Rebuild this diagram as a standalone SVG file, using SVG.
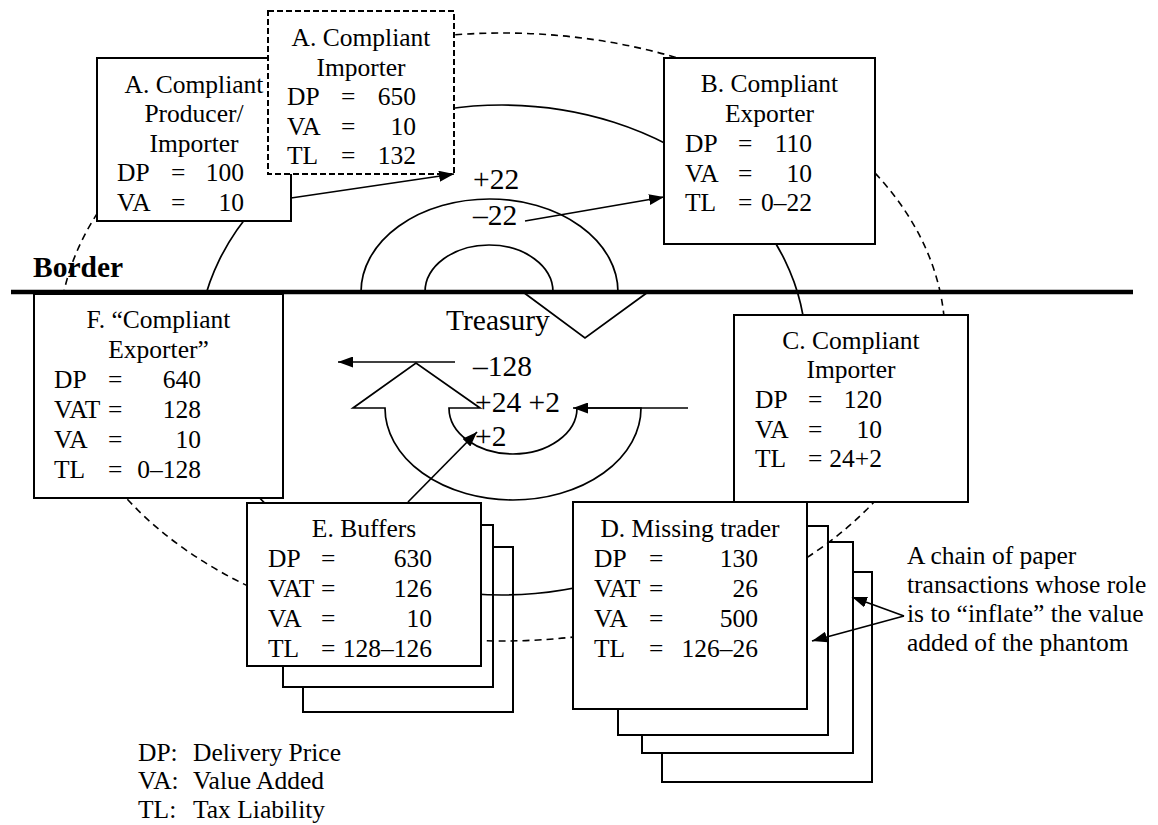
<svg xmlns="http://www.w3.org/2000/svg" width="1158" height="825" viewBox="0 0 1158 825">
<defs>
<marker id="ah" markerUnits="userSpaceOnUse" markerWidth="15" markerHeight="11" refX="15" refY="5.5" orient="auto">
<path d="M0,0 L15,5.5 L0,11 Z" fill="#000"/>
</marker>
</defs>
<rect width="1158" height="825" fill="#fff"/>

<g id="stacks" fill="#fff" stroke="#000" stroke-width="2">
<rect x="303" y="547" width="210" height="165"/>
<rect x="283" y="525" width="210" height="162"/>
<rect x="662" y="572" width="210" height="210"/>
<rect x="642" y="542" width="211" height="211"/>
<rect x="618" y="526" width="210" height="209"/>
</g>

<g id="connectors" fill="none" stroke="#000">
<ellipse cx="502" cy="350" rx="304" ry="245" stroke-width="1.7"/>
<ellipse cx="502" cy="337" rx="443" ry="304" stroke-width="1.6" stroke-dasharray="7 5"/>
</g>

<g id="border">
<line x1="11" y1="292" x2="1133" y2="292" stroke="#000" stroke-width="4.5"/>
<text font-family="Liberation Serif" x="33" y="277" font-size="29.5" font-weight="bold">Border</text>
</g>

<g id="nodeA1" font-size="25.5">
<rect x="97" y="58" width="194" height="163" fill="#fff" stroke="#000" stroke-width="2"/>
<text font-family="Liberation Serif" font-size="25.5" text-anchor="middle" x="194" y="93">A. Compliant</text>
<text font-family="Liberation Serif" font-size="25.5" text-anchor="middle" x="194" y="122">Producer/</text>
<text font-family="Liberation Serif" font-size="25.5" text-anchor="middle" x="194" y="152">Importer</text>
<text font-family="Liberation Serif" font-size="25.5" x="117" y="181">DP</text><text font-family="Liberation Serif" font-size="25.5" x="171" y="181">=</text><text font-family="Liberation Serif" font-size="25.5" text-anchor="end" x="244" y="181">100</text>
<text font-family="Liberation Serif" font-size="25.5" x="117" y="211">VA</text><text font-family="Liberation Serif" font-size="25.5" x="171" y="211">=</text><text font-family="Liberation Serif" font-size="25.5" text-anchor="end" x="244" y="211">10</text>
</g>

<g id="nodeA2">
<rect x="268" y="11" width="186" height="163" fill="#fff" stroke="#000" stroke-width="2" stroke-dasharray="6 3"/>
<text font-family="Liberation Serif" font-size="25.5" text-anchor="middle" x="361" y="46">A. Compliant</text>
<text font-family="Liberation Serif" font-size="25.5" text-anchor="middle" x="361" y="76">Importer</text>
<text font-family="Liberation Serif" font-size="25.5" x="287" y="105">DP</text><text font-family="Liberation Serif" font-size="25.5" x="341" y="105">=</text><text font-family="Liberation Serif" font-size="25.5" text-anchor="end" x="416" y="105">650</text>
<text font-family="Liberation Serif" font-size="25.5" x="287" y="135">VA</text><text font-family="Liberation Serif" font-size="25.5" x="341" y="135">=</text><text font-family="Liberation Serif" font-size="25.5" text-anchor="end" x="416" y="135">10</text>
<text font-family="Liberation Serif" font-size="25.5" x="287" y="164">TL</text><text font-family="Liberation Serif" font-size="25.5" x="341" y="164">=</text><text font-family="Liberation Serif" font-size="25.5" text-anchor="end" x="416" y="164">132</text>
</g>

<g id="nodeB">
<rect x="664" y="58" width="211" height="186" fill="#fff" stroke="#000" stroke-width="2"/>
<text font-family="Liberation Serif" font-size="25.5" text-anchor="middle" x="769.5" y="92">B. Compliant</text>
<text font-family="Liberation Serif" font-size="25.5" text-anchor="middle" x="769.5" y="122">Exporter</text>
<text font-family="Liberation Serif" font-size="25.5" x="685" y="152">DP</text><text font-family="Liberation Serif" font-size="25.5" x="738" y="152">=</text><text font-family="Liberation Serif" font-size="25.5" text-anchor="end" x="812" y="152">110</text>
<text font-family="Liberation Serif" font-size="25.5" x="685" y="182">VA</text><text font-family="Liberation Serif" font-size="25.5" x="738" y="182">=</text><text font-family="Liberation Serif" font-size="25.5" text-anchor="end" x="812" y="182">10</text>
<text font-family="Liberation Serif" font-size="25.5" x="685" y="211">TL</text><text font-family="Liberation Serif" font-size="25.5" x="738" y="211">=</text><text font-family="Liberation Serif" font-size="25.5" text-anchor="end" x="812" y="211">0–22</text>
</g>

<g id="nodeC">
<rect x="734" y="315" width="234" height="187" fill="#fff" stroke="#000" stroke-width="2"/>
<text font-family="Liberation Serif" font-size="25.5" text-anchor="middle" x="851" y="349">C. Compliant</text>
<text font-family="Liberation Serif" font-size="25.5" text-anchor="middle" x="851" y="378">Importer</text>
<text font-family="Liberation Serif" font-size="25.5" x="755" y="408">DP</text><text font-family="Liberation Serif" font-size="25.5" x="808" y="408">=</text><text font-family="Liberation Serif" font-size="25.5" text-anchor="end" x="882" y="408">120</text>
<text font-family="Liberation Serif" font-size="25.5" x="755" y="438">VA</text><text font-family="Liberation Serif" font-size="25.5" x="808" y="438">=</text><text font-family="Liberation Serif" font-size="25.5" text-anchor="end" x="882" y="438">10</text>
<text font-family="Liberation Serif" font-size="25.5" x="755" y="467">TL</text><text font-family="Liberation Serif" font-size="25.5" x="808" y="467">=</text><text font-family="Liberation Serif" font-size="25.5" text-anchor="end" x="882" y="467">24+2</text>
</g>

<g id="nodeF">
<rect x="34" y="294" width="249" height="204" fill="#fff" stroke="#000" stroke-width="2"/>
<text font-family="Liberation Serif" font-size="25.5" text-anchor="middle" x="158.5" y="328">F. “Compliant</text>
<text font-family="Liberation Serif" font-size="25.5" text-anchor="middle" x="158.5" y="358">Exporter”</text>
<text font-family="Liberation Serif" font-size="25.5" x="54" y="388">DP</text><text font-family="Liberation Serif" font-size="25.5" x="108" y="388">=</text><text font-family="Liberation Serif" font-size="25.5" text-anchor="end" x="201" y="388">640</text>
<text font-family="Liberation Serif" font-size="25.5" x="54" y="418">VAT</text><text font-family="Liberation Serif" font-size="25.5" x="108" y="418">=</text><text font-family="Liberation Serif" font-size="25.5" text-anchor="end" x="201" y="418">128</text>
<text font-family="Liberation Serif" font-size="25.5" x="54" y="448">VA</text><text font-family="Liberation Serif" font-size="25.5" x="108" y="448">=</text><text font-family="Liberation Serif" font-size="25.5" text-anchor="end" x="201" y="448">10</text>
<text font-family="Liberation Serif" font-size="25.5" x="54" y="478">TL</text><text font-family="Liberation Serif" font-size="25.5" x="108" y="478">=</text><text font-family="Liberation Serif" font-size="25.5" text-anchor="end" x="201" y="478">0–128</text>
</g>

<g id="nodeE">
<rect x="247" y="503" width="234" height="163" fill="#fff" stroke="#000" stroke-width="2"/>
<text font-family="Liberation Serif" font-size="25.5" text-anchor="middle" x="364" y="537">E. Buffers</text>
<text font-family="Liberation Serif" font-size="25.5" x="268" y="567">DP</text><text font-family="Liberation Serif" font-size="25.5" x="321" y="567">=</text><text font-family="Liberation Serif" font-size="25.5" text-anchor="end" x="432" y="567">630</text>
<text font-family="Liberation Serif" font-size="25.5" x="268" y="597">VAT</text><text font-family="Liberation Serif" font-size="25.5" x="321" y="597">=</text><text font-family="Liberation Serif" font-size="25.5" text-anchor="end" x="432" y="597">126</text>
<text font-family="Liberation Serif" font-size="25.5" x="268" y="627">VA</text><text font-family="Liberation Serif" font-size="25.5" x="321" y="627">=</text><text font-family="Liberation Serif" font-size="25.5" text-anchor="end" x="432" y="627">10</text>
<text font-family="Liberation Serif" font-size="25.5" x="268" y="657">TL</text><text font-family="Liberation Serif" font-size="25.5" x="321" y="657">=</text><text font-family="Liberation Serif" font-size="25.5" text-anchor="end" x="432" y="657">128–126</text>
</g>

<g id="nodeD">
<rect x="573" y="502" width="234" height="207" fill="#fff" stroke="#000" stroke-width="2"/>
<text font-family="Liberation Serif" font-size="25.5" text-anchor="middle" x="690" y="537">D. Missing trader</text>
<text font-family="Liberation Serif" font-size="25.5" x="594" y="567">DP</text><text font-family="Liberation Serif" font-size="25.5" x="649" y="567">=</text><text font-family="Liberation Serif" font-size="25.5" text-anchor="end" x="758" y="567">130</text>
<text font-family="Liberation Serif" font-size="25.5" x="594" y="597">VAT</text><text font-family="Liberation Serif" font-size="25.5" x="649" y="597">=</text><text font-family="Liberation Serif" font-size="25.5" text-anchor="end" x="758" y="597">26</text>
<text font-family="Liberation Serif" font-size="25.5" x="594" y="627">VA</text><text font-family="Liberation Serif" font-size="25.5" x="649" y="627">=</text><text font-family="Liberation Serif" font-size="25.5" text-anchor="end" x="758" y="627">500</text>
<text font-family="Liberation Serif" font-size="25.5" x="594" y="657">TL</text><text font-family="Liberation Serif" font-size="25.5" x="649" y="657">=</text><text font-family="Liberation Serif" font-size="25.5" text-anchor="end" x="758" y="657">126–26</text>
</g>

<g id="treasury">
<g fill="none" stroke="#000" stroke-width="1.7">
<path d="M361,292 A128.5,93 0 0 1 618,292 L648,292 L585,338 L523,292 L553,292 A64,47 0 0 0 425,292 Z"/>
<path d="M385,408 A128,92 0 0 0 641,408 L577,408 A64,46 0 0 1 449,408 L480,408 L416,363 L353,408 Z"/>
</g>
<text font-family="Liberation Serif" font-size="29.5" x="446" y="330">Treasury</text>
<text font-family="Liberation Serif" font-size="29.5" x="473" y="189">+22</text>
<text font-family="Liberation Serif" font-size="29.5" x="473" y="225">–22</text>
<text font-family="Liberation Serif" font-size="29.5" x="473" y="376">–128</text>
<text font-family="Liberation Serif" font-size="29.5" x="475" y="412">+24 +2</text>
<text font-family="Liberation Serif" font-size="29.5" x="475" y="446">+2</text>
</g>

<g id="arrows" fill="none" stroke="#000" stroke-width="1.7" marker-end="url(#ah)">
<line x1="291" y1="198" x2="454" y2="174"/>
<line x1="525" y1="221" x2="664" y2="197"/>
<line x1="455" y1="362" x2="338" y2="362"/>
<line x1="688" y1="408" x2="573" y2="408"/>
<line x1="408" y1="502" x2="477" y2="432"/>
<line x1="904" y1="616" x2="852" y2="597"/>
<line x1="904" y1="616" x2="812" y2="641"/>
</g>

<g id="note">
<text font-family="Liberation Serif" font-size="25.5" x="907" y="564">A chain of paper</text>
<text font-family="Liberation Serif" font-size="25.5" x="907" y="593">transactions whose role</text>
<text font-family="Liberation Serif" font-size="25.5" x="907" y="622">is to “inflate” the value</text>
<text font-family="Liberation Serif" font-size="25.5" x="907" y="651">added of the phantom</text>
</g>

<g id="legend">
<text font-family="Liberation Serif" font-size="25.5" x="138" y="761">DP:</text><text font-family="Liberation Serif" font-size="25.5" x="193" y="761">Delivery Price</text>
<text font-family="Liberation Serif" font-size="25.5" x="138" y="789">VA:</text><text font-family="Liberation Serif" font-size="25.5" x="193" y="789">Value Added</text>
<text font-family="Liberation Serif" font-size="25.5" x="138" y="818">TL:</text><text font-family="Liberation Serif" font-size="25.5" x="193" y="818">Tax Liability</text>
</g>
</svg>
